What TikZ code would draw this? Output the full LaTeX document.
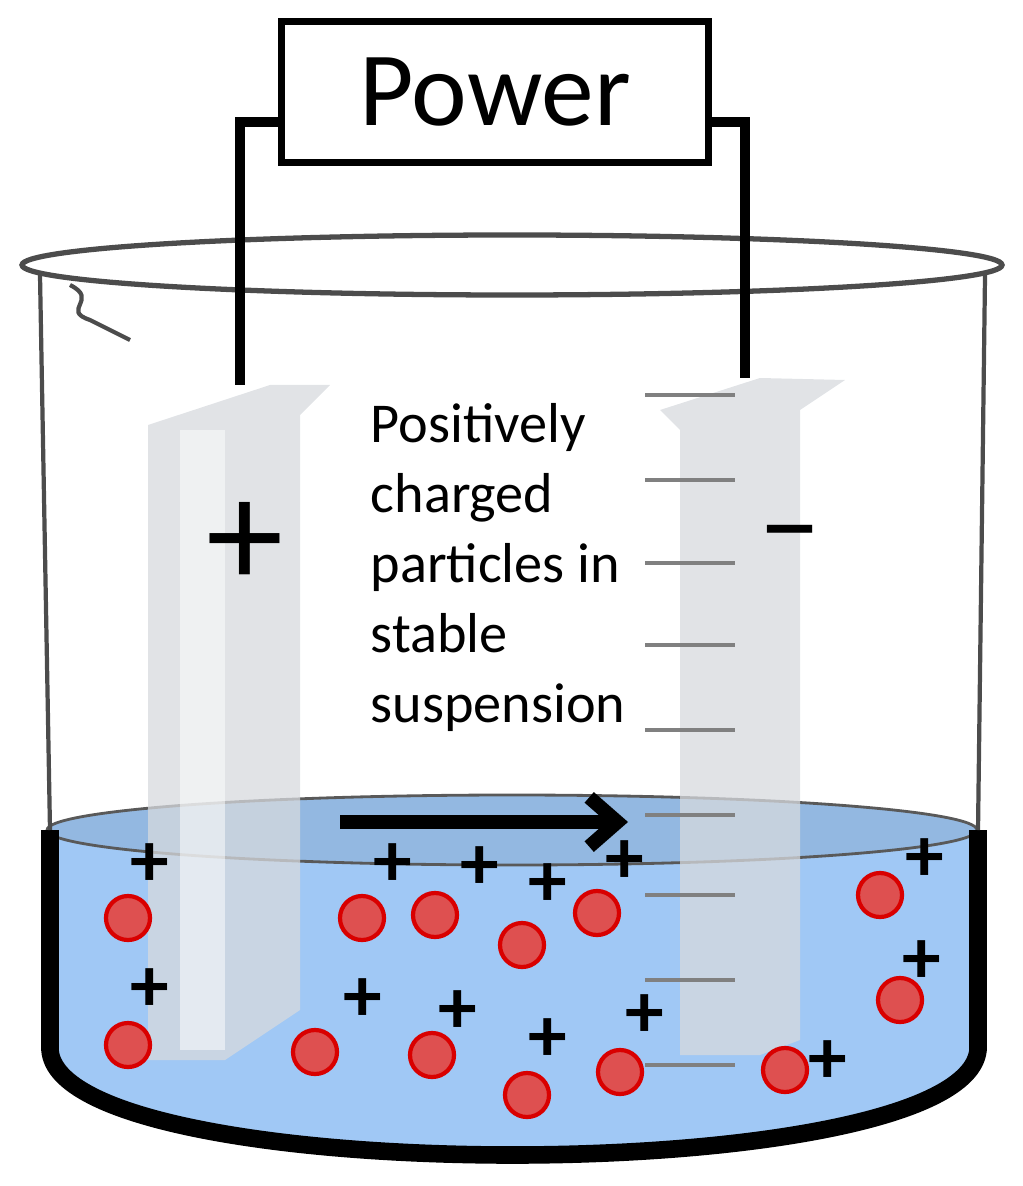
\documentclass[tikz,border=0pt]{standalone}
\usepackage{fontspec}
\setmainfont{Carlito}
\usetikzlibrary{arrows.meta}
\definecolor{liquid}{RGB}{160,200,245}
\definecolor{particle}{RGB}{222,80,80}
\definecolor{plate}{RGB}{215,218,222}
\begin{document}
\begin{tikzpicture}[x=0.01cm,y=-0.01cm,
    part/.style={circle,draw=red!85!black,fill=particle,line width=1.2pt,minimum size=0.44cm,inner sep=0pt},
    chg/.style={font=\fontsize{22}{22}\selectfont\bfseries,inner sep=0pt},
    tick/.style={gray,line width=1.2pt}]

    \useasboundingbox (0,0) rectangle (1022,1186);

    % liquid
    \fill[liquid] (50,830) -- (50,1050) .. controls (60,1190) and (964,1190) .. (978,1050) -- (978,830) -- cycle;
    \fill[liquid!92!black] (512,830) ellipse (465 and 35);
    \draw[gray!70!black,line width=0.8pt] (512,830) ellipse (465 and 35);
    \draw[line width=5pt] (50,830) -- (50,1050) .. controls (60,1190) and (964,1190) .. (978,1050) -- (978,830);

    % beaker
    \draw[gray!60!black,line width=1.5pt] (512,265) ellipse (490 and 30);
    \draw[gray!60!black,line width=1.2pt] (40,275) -- (50,830);
    \draw[gray!60!black,line width=1.2pt] (985,275) -- (978,830);
    \draw[gray!60!black,line width=1.2pt] (70,285) .. controls (100,300) and (60,310) .. (90,320) .. controls (110,330) and (120,335) .. (130,340);

    % electrodes
    \fill[plate,opacity=0.75] (148,425) -- (270,385) -- (330,385) -- (300,415) -- (300,1010) -- (225,1060) -- (148,1060) -- cycle;
    \fill[white,opacity=0.5] (180,430) rectangle (225,1050);
    \fill[plate,opacity=0.75] (660,410) -- (760,378) -- (845,380) -- (800,410) -- (800,1040) -- (760,1055) -- (680,1055) -- (680,430) -- cycle;
    \foreach \y in {395,480,563,645,730,815,895,980,1065}
        \draw[tick] (645,\y) -- (735,\y);

    % power supply and wires
    \node[draw,line width=2pt,minimum width=4.26cm,minimum height=1.4cm,
          font=\fontsize{30}{34}\selectfont] (power) at (495,92) {Power};
    \coordinate (lw) at (240,385);
    \coordinate (rw) at (745,378);
    \draw[line width=3pt] (power.west |- 0,122) -| (lw);
    \draw[line width=3pt] (power.east |- 0,122) -| (rw);

    \node[font=\fontsize{44}{44}\selectfont] (plus) at (245,545) {+};
    \node[font=\fontsize{36}{36}\selectfont] (minus) at (790,545) {--};

    \node[anchor=north west,align=left,font=\fontsize{16}{19.9}\selectfont,inner sep=0pt] (label) at (370,403)
        {Positively\\charged\\particles in\\stable\\suspension};

    \coordinate (a1) at (340,822);
    \coordinate (a2) at (628,822);
    \draw[line width=4pt,-{Straight Barb[length=8pt,width=14pt]}] (a1) -- (a2);

    % particles
    \foreach \x/\y [count=\i] in {128/918,362/918,435/915,522/945,597/913,880/895,128/1045,315/1052,432/1055,527/1095,620/1072,785/1070,900/1000}
        \node[part] (p\i) at (\x,\y) {};
    \foreach \x/\y [count=\i] in {150/865,393/865,480/868,548/885,625/862,925/860,150/990,363/1000,458/1012,548/1040,645/1016,828/1062,922/962}
        \node[chg] (c\i) at (\x,\y) {+};
\end{tikzpicture}
\end{document}
